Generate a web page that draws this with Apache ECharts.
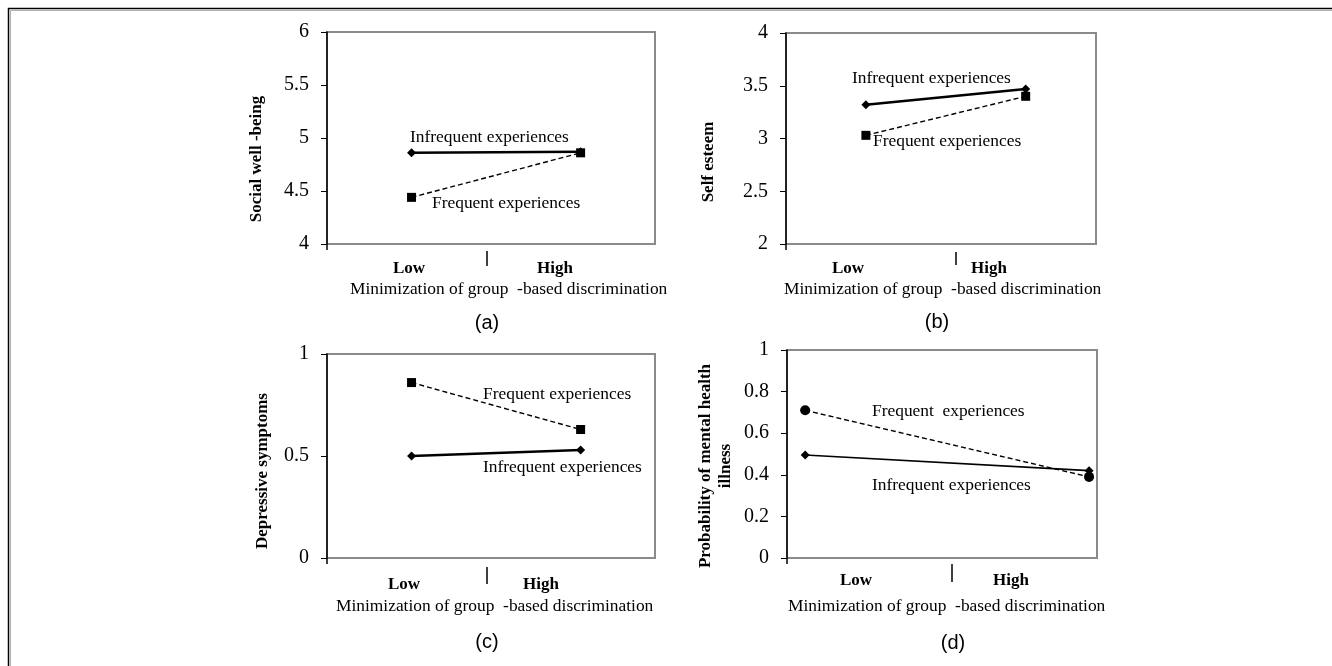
<!DOCTYPE html>
<html><head><meta charset="utf-8">
<script src="https://cdn.jsdelivr.net/npm/echarts@6/dist/echarts.min.js"></script>
<style>html,body{margin:0;padding:0;background:#fff}#c{width:1332px;height:666px}</style>
</head><body><div id="c"></div>
<script>
// ---- data ----
const categories = ['Low', 'High'];
const seriesNames = ['Infrequent experiences', 'Frequent experiences'];
const wellbeingInfrequent = [4.86, 4.87];
const wellbeingFrequent = [4.44, 4.86];
const esteemInfrequent = [3.32, 3.47];
const esteemFrequent = [3.03, 3.40];
const depressiveInfrequent = [0.50, 0.53];
const depressiveFrequent = [0.86, 0.63];
const illnessInfrequent = [0.495, 0.42];
const illnessFrequent = [0.71, 0.39];
const wellbeingTicks = [4, 4.5, 5, 5.5, 6];
const esteemTicks = [2, 2.5, 3, 3.5, 4];
const depressiveTicks = [0, 0.5, 1];
const illnessTicks = [0, 0.2, 0.4, 0.6, 0.8, 1];
const yTitles = ['Social well -being', 'Self esteem', 'Depressive symptoms', 'Probability of mental health\nillness'];
const xTitle = 'Minimization of group  -based discrimination';
const captions = ['(a)', '(b)', '(c)', '(d)'];
const illnessFrequentLabel = 'Frequent  experiences';

const panelData = [
  { inf: wellbeingInfrequent, freq: wellbeingFrequent, ticks: wellbeingTicks, freqLabel: seriesNames[1] },
  { inf: esteemInfrequent, freq: esteemFrequent, ticks: esteemTicks, freqLabel: seriesNames[1] },
  { inf: depressiveInfrequent, freq: depressiveFrequent, ticks: depressiveTicks, freqLabel: seriesNames[1] },
  { inf: illnessInfrequent, freq: illnessFrequent, ticks: illnessTicks, freqLabel: illnessFrequentLabel }
];

// ---- layout / style ----
const layout = [
  { grid: { left: 327, top: 32, width: 328, height: 212 }, xMin: -0.5, xMax: 1.44, sym: 'rect', symSize: 9, infW: 2.5,
    yTitle: [257, 159], low: [409, 269], high: [555, 269], tick: [487, 251, 266], xTitle: [350, 289], cap: [487, 323],
    labInf: [410, 137], labFreq: [432, 203] },
  { grid: { left: 786, top: 33, width: 310, height: 211 }, xMin: -0.5, xMax: 1.44, sym: 'rect', symSize: 9, infW: 2.5,
    yTitle: [709, 162], low: [848, 269], high: [989, 269], tick: [956, 252, 265], xTitle: [784, 289], cap: [937, 322],
    labInf: [852, 78], labFreq: [873, 141] },
  { grid: { left: 327, top: 354, width: 328, height: 204 }, xMin: -0.5, xMax: 1.44, sym: 'rect', symSize: 9, infW: 2.5,
    yTitle: [263, 471], low: [404, 585], high: [541, 585], tick: [487, 567, 584], xTitle: [336, 606], cap: [487, 642],
    labInf: [483, 467], labFreq: [483, 394] },
  { grid: { left: 787, top: 350, width: 310, height: 208 }, xMin: -0.064, xMax: 1.028, sym: 'circle', symSize: 10, infW: 1.6,
    yTitle: [716, 466], low: [856, 581], high: [1011, 581], tick: [952, 564, 582], xTitle: [788, 606], cap: [953, 643],
    labInf: [872, 485], labFreq: [872, 411] }
];

const SERIF = 'Liberation Serif';
const SANS = 'Liberation Sans';

const grids = [], xAxes = [], yAxes = [], series = [], graphics = [];

function txt(x, y, text, opt) {
  opt = opt || {};
  return {
    type: 'text', x: x, y: y, rotation: opt.rotation || 0, silent: true, z: 10,
    style: {
      text: text, fill: '#000',
      fontFamily: opt.family || SERIF, fontSize: opt.size || 17, fontWeight: opt.weight || 'normal',
      align: opt.align || 'center', verticalAlign: 'middle',
      textAlign: opt.align || 'center', textVerticalAlign: 'middle',
      lineHeight: opt.lineHeight || undefined
    }
  };
}

layout.forEach((L, i) => {
  const D = panelData[i];
  grids.push(Object.assign({ show: true, borderColor: '#8a8a8a', borderWidth: 2, backgroundColor: 'transparent' }, L.grid));
  xAxes.push({ type: 'value', gridIndex: i, min: L.xMin, max: L.xMax, show: false });
  const t = D.ticks;
  yAxes.push({
    type: 'value', gridIndex: i, min: t[0], max: t[t.length - 1], interval: t[1] - t[0], z: 5,
    axisLine: { show: true, onZero: false, lineStyle: { color: '#000', width: 1.5 } },
    axisTick: { show: true, length: 6, lineStyle: { color: '#000', width: 1 } },
    axisLabel: { color: '#000', fontFamily: SERIF, fontSize: 20, margin: 18 },
    splitLine: { show: false }
  });
  series.push({
    type: 'line', name: seriesNames[0], xAxisIndex: i, yAxisIndex: i,
    data: D.inf.map((v, k) => [k, v]),
    symbol: 'diamond', symbolSize: 9, showSymbol: true,
    lineStyle: { color: '#000', width: L.infW }, itemStyle: { color: '#000' },
    silent: true, animation: false, z: 3
  });
  series.push({
    type: 'line', name: seriesNames[1], xAxisIndex: i, yAxisIndex: i,
    data: D.freq.map((v, k) => [k, v]),
    symbol: L.sym, symbolSize: L.symSize, showSymbol: true,
    lineStyle: { color: '#000', width: 1.4, type: [5, 3] }, itemStyle: { color: '#000' },
    silent: true, animation: false, z: 4
  });

  const g = L.grid;
  graphics.push({ type: 'line', silent: true, z: 10, shape: { x1: g.left, y1: g.top + g.height, x2: g.left, y2: g.top + g.height + 6 }, style: { stroke: '#000', lineWidth: 1.5 } });
  graphics.push({ type: 'line', silent: true, z: 10, shape: { x1: L.tick[0], y1: L.tick[1], x2: L.tick[0], y2: L.tick[2] }, style: { stroke: '#000', lineWidth: 1.5 } });
  graphics.push(txt(L.yTitle[0], L.yTitle[1], yTitles[i], { rotation: Math.PI / 2, weight: 'bold', size: 17, lineHeight: 20 }));
  graphics.push(txt(L.low[0], L.low[1], categories[0], { weight: 'bold', size: 17 }));
  graphics.push(txt(L.high[0], L.high[1], categories[1], { weight: 'bold', size: 17 }));
  graphics.push(txt(L.xTitle[0], L.xTitle[1], xTitle, { align: 'left', size: 17.4 }));
  graphics.push(txt(L.cap[0], L.cap[1], captions[i], { family: SANS, size: 20 }));
  graphics.push(txt(L.labInf[0], L.labInf[1], seriesNames[0], { align: 'left', size: 17.4 }));
  graphics.push(txt(L.labFreq[0], L.labFreq[1], D.freqLabel, { align: 'left', size: 17.4 }));
});

graphics.push({ type: 'rect', silent: true, z: 0, shape: { x: 8.5, y: 8.5, width: 1400, height: 700 }, style: { fill: 'none', stroke: '#000', lineWidth: 1.5 } });
graphics.push({ type: 'rect', silent: true, z: 0, shape: { x: 10.5, y: 10.5, width: 1400, height: 700 }, style: { fill: 'none', stroke: '#b0b0b0', lineWidth: 1 } });

const chart = echarts.init(document.getElementById('c'), null, { renderer: 'canvas' });
chart.setOption({
  animation: false,
  backgroundColor: '#fff',
  grid: grids, xAxis: xAxes, yAxis: yAxes, series: series,
  graphic: { elements: graphics }
});
</script>
</body></html>
